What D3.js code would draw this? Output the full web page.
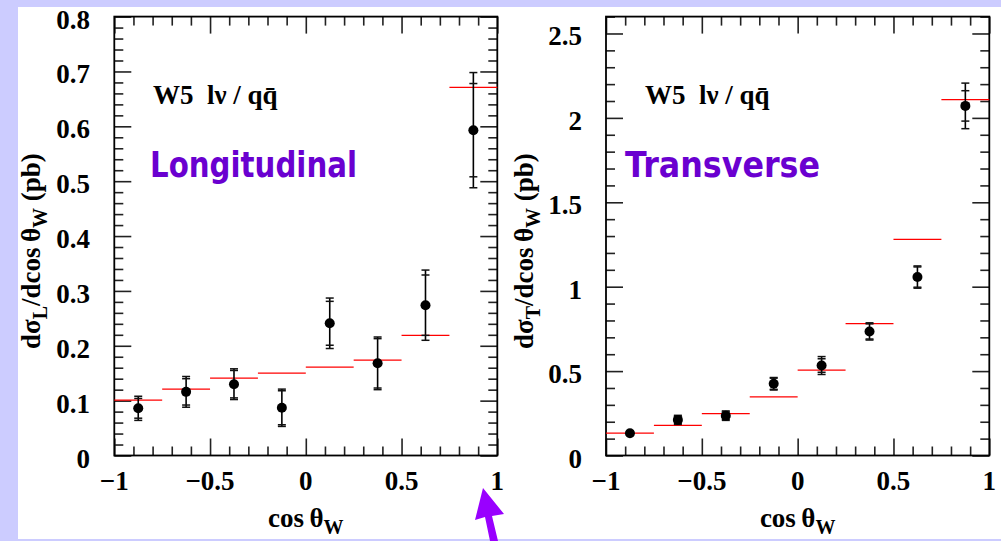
<!DOCTYPE html>
<html>
<head>
<meta charset="utf-8">
<script src="https://cdn.jsdelivr.net/npm/d3@7"></script>
<style>
  html, body { margin: 0; padding: 0; background: #ccccff; }
  svg { display: block; }
  .tl { font-family: "Liberation Serif", "Times New Roman", serif; font-weight: bold; fill: #000; }
  .tag { font-family: "DejaVu Sans", sans-serif; font-weight: bold; fill: #6a00d0; }
</style>
</head>
<body>
<div id="chart"></div>
<script>
// bins in cos(theta_W)
const binEdges = [-1, -0.75, -0.5, -0.25, 0, 0.25, 0.5, 0.75, 1];
const binCenters = [-0.875, -0.625, -0.375, -0.125, 0.125, 0.375, 0.625, 0.875];

// longitudinal: measured, stat error, total error, prediction
const longVal = [0.086, 0.116, 0.130, 0.087, 0.241, 0.168, 0.274, 0.593];
const longStat = [0.018, 0.024, 0.025, 0.031, 0.040, 0.045, 0.055, 0.085];
const longTot = [0.022, 0.028, 0.028, 0.034, 0.046, 0.048, 0.064, 0.105];
const longTheory = [0.101, 0.121, 0.141, 0.150, 0.161, 0.174, 0.219, 0.671];

// transverse
const transVal = [0.132, 0.211, 0.236, 0.425, 0.533, 0.735, 1.057, 2.071];
const transStat = [0.010, 0.022, 0.022, 0.033, 0.040, 0.045, 0.060, 0.090];
const transTot = [0.012, 0.027, 0.028, 0.037, 0.053, 0.051, 0.066, 0.135];
const transTheory = [0.132, 0.179, 0.248, 0.347, 0.506, 0.781, 1.280, 2.108];

const xTicks = [-1, -0.5, 0, 0.5, 1];
const xTickLabels = ["\u22121", "\u22120.5", "0", "0.5", "1"];
const longYTicks = [0, 0.1, 0.2, 0.3, 0.4, 0.5, 0.6, 0.7, 0.8];
const longYLabels = ["0", "0.1", "0.2", "0.3", "0.4", "0.5", "0.6", "0.7", "0.8"];
const transYTicks = [0, 0.5, 1, 1.5, 2, 2.5];
const transYLabels = ["0", "0.5", "1", "1.5", "2", "2.5"];

const W = 1001, H = 541;
const svg = d3.select("#chart").append("svg").attr("width", W).attr("height", H);
svg.append("rect").attr("x", 18).attr("y", 7).attr("width", W - 18).attr("height", 532).attr("fill", "#fff");

function drawPanel(p) {
    const x = d3.scaleLinear().domain([-1, 1]).range([p.left, p.right]);
    const y = d3.scaleLinear().domain([0, p.yMax]).range([p.bottom, p.top]);
    const g = svg.append("g");

    const xMinor = d3.range(-10, 11).map(d => d / 10).filter(d => !xTicks.includes(d));
    const yMinor = d3.range(0, Math.round(p.yMax / p.yMinorStep) + 1).map(d => +(d * p.yMinorStep).toFixed(3))
        .filter(d => !p.yTicks.some(t => Math.abs(t - d) < 1e-6));

    // inward ticks on all four sides
    const tickSets = [
        [d3.axisBottom(x), xTicks, xMinor, "translate(0," + p.top + ")"],
        [d3.axisTop(x), xTicks, xMinor, "translate(0," + p.bottom + ")"],
        [d3.axisRight(y), p.yTicks, yMinor, "translate(" + p.left + ",0)"],
        [d3.axisLeft(y), p.yTicks, yMinor, "translate(" + p.right + ",0)"]
    ];
    for (const [ax, major, minor, tr] of tickSets) {
        g.append("g").attr("transform", tr)
            .call(ax.tickValues(major).tickSize(17).tickFormat(""))
            .call(s => s.select(".domain").remove());
        g.append("g").attr("transform", tr)
            .call(ax.tickValues(minor).tickSize(9).tickFormat(""))
            .call(s => s.select(".domain").remove());
    }
    g.selectAll(".tick line").attr("stroke", "#222").attr("stroke-width", 1.6);

    // frame
    g.append("rect").attr("x", p.left).attr("y", p.top)
        .attr("width", p.right - p.left).attr("height", p.bottom - p.top)
        .attr("fill", "none").attr("stroke", "#000").attr("stroke-width", 1.8);

    // tick labels
    g.selectAll(".xl").data(xTicks).enter().append("text")
        .attr("class", "tl").attr("x", d => x(d)).attr("y", 490)
        .attr("text-anchor", "middle").attr("font-size", 27)
        .text((d, i) => xTickLabels[i]);
    g.selectAll(".yl").data(p.yTicks).enter().append("text")
        .attr("class", "tl").attr("x", p.labelX).attr("y", d => y(d) + 12)
        .attr("text-anchor", "end").attr("font-size", 27)
        .text((d, i) => p.yLabels[i]);

    // axis titles
    const xt = g.append("text").attr("class", "tl").attr("x", x(0)).attr("y", 527)
        .attr("text-anchor", "middle").attr("font-size", 27).style("white-space", "pre");
    xt.append("tspan").text("cos\u2009\u03b8");
    xt.append("tspan").attr("dy", 7).attr("font-size", 20).text("W");

    const yt = g.append("text").attr("class", "tl")
        .attr("transform", "translate(" + p.titleX + "," + ((p.top + p.bottom) / 2 + 15) + ") rotate(-90)")
        .attr("text-anchor", "middle").attr("font-size", 27).style("white-space", "pre");
    yt.append("tspan").text("d\u03c3");
    yt.append("tspan").attr("dy", 7).attr("font-size", 20).text(p.sub);
    yt.append("tspan").attr("dy", -7).text("/dcos\u2009\u03b8");
    yt.append("tspan").attr("dy", 7).attr("font-size", 20).text("W");
    yt.append("tspan").attr("dy", -7).text(" (pb)");

    // prediction per bin
    g.selectAll(".th").data(p.theory).enter().append("line")
        .attr("x1", (d, i) => x(binEdges[i])).attr("x2", (d, i) => x(binEdges[i + 1]))
        .attr("y1", d => y(d)).attr("y2", d => y(d))
        .attr("stroke", "#ff0000").attr("stroke-width", 1.3);

    // error bars: total (outer) and stat (inner) caps
    const eb = g.selectAll(".eb").data(p.vals).enter().append("g");
    eb.append("line")
        .attr("x1", (d, i) => x(binCenters[i])).attr("x2", (d, i) => x(binCenters[i]))
        .attr("y1", (d, i) => y(d - p.tot[i])).attr("y2", (d, i) => y(d + p.tot[i]))
        .attr("stroke", "#000").attr("stroke-width", 1.6);
    for (const [errs, sign] of [[p.tot, 1], [p.tot, -1], [p.stat, 1], [p.stat, -1]]) {
        eb.append("line")
            .attr("x1", (d, i) => x(binCenters[i]) - 4).attr("x2", (d, i) => x(binCenters[i]) + 4)
            .attr("y1", (d, i) => y(d + sign * errs[i])).attr("y2", (d, i) => y(d + sign * errs[i]))
            .attr("stroke", "#111").attr("stroke-width", 1.5);
    }
    eb.append("circle")
        .attr("cx", (d, i) => x(binCenters[i])).attr("cy", d => y(d))
        .attr("r", 5).attr("fill", "#000");

    // labels inside the frame
    g.append("text").attr("class", "tl").attr("x", p.labelTextX).attr("y", 104)
        .attr("font-size", 27).style("white-space", "pre")
        .text("W5  l\u03bd / qq\u0304");

    g.append("text").attr("class", "tag").attr("x", p.tagX).attr("y", 177)
        .attr("font-size", 35).attr("textLength", p.tagW).attr("lengthAdjust", "spacingAndGlyphs")
        .text(p.tag);
}

drawPanel({
    left: 114.3, right: 497.3, top: 16.6, bottom: 455.5, yMax: 0.8, yMinorStep: 0.02,
    yTicks: longYTicks, yLabels: longYLabels, labelX: 90, titleX: 40, sub: "L",
    vals: longVal, stat: longStat, tot: longTot, theory: longTheory,
    labelTextX: 153, tag: "Longitudinal", tagX: 150, tagW: 207
});
drawPanel({
    left: 606, right: 989.3, top: 16.6, bottom: 455.5, yMax: 2.6, yMinorStep: 0.1,
    yTicks: transYTicks, yLabels: transYLabels, labelX: 582, titleX: 533, sub: "T",
    vals: transVal, stat: transStat, tot: transTot, theory: transTheory,
    labelTextX: 645, tag: "Transverse", tagX: 625, tagW: 195
});

// pointer arrow at the bottom
svg.append("path")
    .attr("d", "M483,488 L504,514 L492,516 L498,541 L490,541 L485,517 L475,520 Z")
    .attr("fill", "#9900ff");
</script>
</body>
</html>
